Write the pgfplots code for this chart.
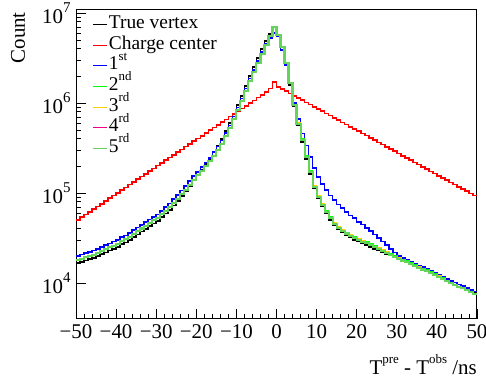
\documentclass[border=0pt]{standalone}
\usepackage{pgfplots}
\pgfplotsset{compat=1.18}
\usepackage{pgfplotstable}
\usepackage{fontspec}
\setmainfont{Liberation Serif}
\definecolor{rootorange}{RGB}{255,204,0}
\definecolor{rootlgreen}{RGB}{100,212,90}
\newcommand\tenp[1]{10\raisebox{0.5em}{\fontsize{15}{15}\selectfont #1}}
\newcommand\supx[1]{\raisebox{0.5em}{\fontsize{13}{13}\selectfont #1}}

\pgfplotstableread{
x tv cc s1 s2 s3 s5
-50 16600 50120 19950 17990 17990 17990
-49 17180 53700 20650 18620 18620 18620
-48 17780 57540 21380 19280 19280 19280
-47 18410 61800 22130 19950 19950 19950
-46 19050 66220 22910 20650 20650 20650
-45 19950 70960 23990 21630 21630 21630
-44 20890 76030 25120 22650 22650 22650
-43 21880 81470 26300 23710 23710 23710
-42 22910 87500 27540 24830 24830 24830
-41 23990 93760 28840 26000 26000 26000
-40 25120 100460 30060 27230 27230 27230
-39 26920 107650 32210 29170 29170 29170
-38 28180 115300 33730 30550 30550 30550
-37 30200 123900 36140 32730 32730 32730
-36 32360 132700 38730 35080 35080 35080
-35 34670 142200 41210 37580 37580 37580
-34 37150 152400 44160 40270 40270 40270
-33 39810 163300 47320 43150 43150 43150
-32 42660 175400 50700 46240 46240 46240
-31 45710 187900 54330 49550 49550 49550
-30 48980 201400 57810 52970 52970 52970
-29 53700 215800 63390 57940 57940 57940
-28 58880 231200 69500 63390 63390 63390
-27 64570 248300 76210 69340 69340 69340
-26 72440 266100 85510 77620 77620 77620
-25 81280 285100 95500 86500 86500 86500
-24 92260 305500 106900 96830 96830 96830
-23 104700 327300 119700 108400 108400 108400
-22 120200 351600 135500 122700 122700 122700
-21 138000 376700 153500 139000 139000 139000
-20 158500 403600 172200 157000 157000 157000
-19 182000 432500 194100 177000 177000 177000
-18 208900 463400 218800 199500 199500 199500
-17 239900 497700 246600 224900 224900 224900
-16 281800 533300 284400 259400 259400 259400
-15 331100 571500 327300 298500 298500 298500
-14 398100 612400 384600 353200 353200 353200
-13 489800 656100 462400 428500 428500 428500
-12 602600 704700 562300 524800 524800 524800
-11 758600 755100 707900 660700 660700 660700
-10 955000 809100 891300 831800 831800 831800
-9 1202000 867000 1122000 1047000 1047000 1047000
-8 1549000 929000 1445000 1349000 1349000 1349000
-7 1995000 997700 1862000 1738000 1738000 1738000
-6 2512000 1069000 2344000 2188000 2188000 2188000
-5 3162000 1146000 2951000 2754000 2754000 2754000
-4 3981000 1227000 3715000 3467000 3467000 3467000
-3 4898000 1315000 4571000 4365000 4365000 4365000
-2 5888000 1445000 5248000 5495000 5495000 5495000
-1 6918000 1718000 6026000 7000000 7000000 7000000
0 5754000 1514000 5495000 5754000 5754000 5754000
1 4169000 1429000 3890000 4169000 4169000 4169000
2 2692000 1352000 2630000 2754000 2754000 2754000
3 1585000 1276000 1698000 1660000 1660000 1660000
4 912000 1205000 1000000 955000 955000 955000
5 562300 1140000 660700 606500 597600 588800
6 371500 1076000 457100 400700 394800 389000
7 239900 1016000 338800 258700 255000 251200
8 162200 959400 251200 174900 172300 169800
9 112200 907800 190500 121000 119300 117500
10 87100 857000 151400 93940 92570 91200
11 70790 809100 125900 76350 75240 74130
12 58880 765600 107200 63510 62580 61660
13 50120 722800 93330 54050 53270 52480
14 43650 682300 83180 47080 46400 45710
15 39360 645700 74130 42450 41830 41210
16 36310 609500 67610 39160 38590 38020
17 33880 575400 61660 36540 36010 35480
18 31990 543300 56230 34510 34000 33500
19 30200 514000 52480 32570 32090 31620
20 28840 485300 47860 31110 30650 30200
21 27540 458100 44670 29710 29270 28840
22 26300 433500 40740 28370 27950 27540
23 25120 409300 38020 27090 26690 26300
24 23990 386400 34670 25870 25500 25120
25 22910 365600 31620 24710 24350 23990
26 22130 345100 28840 23600 23250 22910
27 21130 325800 26300 22280 21950 21630
28 20420 307600 23990 21030 20730 20420
29 19720 291100 21880 20090 19790 19500
30 19050 274800 19950 19180 18900 18620
31 18410 259400 18840 18310 18050 17780
32 17780 245500 17990 17490 17230 16980
33 17060 231700 17180 16710 16460 16220
34 16370 218800 16410 15950 15720 15490
35 15670 207000 15670 15230 15010 14790
36 14960 195400 14960 14550 14340 14130
37 14290 184500 14290 13890 13690 13490
38 13650 174200 13650 13270 13070 12880
39 13030 164800 13030 12670 12480 12300
40 12450 155600 12450 12100 11930 11750
41 11750 146900 11750 11350 11200 11090
42 11090 139000 11090 10650 10560 10470
43 10590 131200 10590 10100 10050 10000
44 10120 123900 10120 9550 9550 9550
45 9660 117200 9660 9120 9120 9120
46 9180 110700 9230 8710 8710 8710
47 8750 104500 8810 8320 8320 8320
48 8340 98630 8410 7940 7940 7940
49 7940 93330 8040 7590 7590 7590
50 7940 93330 8040 7590 7590 7590
}\histdata

\begin{document}
\begin{tikzpicture}
\begin{axis}[
  scale only axis, width=401bp, height=309bp,
  xmin=-50, xmax=50, ymode=log, ymin=3981, ymax=1.08e7,
  axis line style={line width=1bp},
  tick align=inside, xtick pos=left, ytick pos=left,
  xtick={-50,-40,...,50},
  xticklabels={−50,−40,−30,−20,−10,0,10,20,30,40,50},
  minor x tick num=4,
  ytick={1e4,1e5,1e6,1e7},
  yticklabels={\tenp{4},\tenp{5},\tenp{6},\tenp{7}},
  major tick length=10bp, minor tick length=5bp,
  tick style={black, line width=0.8bp},
  ticklabel style={font=\fontsize{21}{21}\selectfont},
  xticklabel style={yshift=-2bp},
  yticklabel style={xshift=-2bp},
  every axis plot/.append style={const plot mark left, no marks, line width=1.6bp},
]
\addplot[color=black] table[x=x,y=tv]{\histdata};
\addplot[color=red] table[x=x,y=cc]{\histdata};
\addplot[color=blue] table[x=x,y=s1]{\histdata};
\addplot[color=green] table[x=x,y=s2]{\histdata};
\addplot[color=rootorange] table[x=x,y=s3]{\histdata};
\addplot[color=magenta] table[x=x,y=s5]{\histdata};
\addplot[color=rootlgreen, line width=2.1bp] table[x=x,y=s5]{\histdata};
\end{axis}
% legend (keys and texts)
\begin{scope}[font=\fontsize{19.5}{19.5}\selectfont, line width=1.7bp]
\draw[black]       (17bp,294.5bp) -- (31bp,294.5bp);
\node[anchor=base west, inner sep=0pt] at (32bp,290.5bp) {True vertex};
\draw[red]         (17bp,273.5bp) -- (31bp,273.5bp);
\node[anchor=base west, inner sep=0pt] at (32bp,269.8bp) {Charge center};
\draw[blue]        (17bp,253.5bp) -- (31bp,253.5bp);
\node[anchor=base west, inner sep=0pt] at (32bp,249.1bp) {1\supx{st}};
\draw[green]       (17bp,232.5bp) -- (31bp,232.5bp);
\node[anchor=base west, inner sep=0pt] at (32bp,228.4bp) {2\supx{nd}};
\draw[rootorange]  (17bp,211.5bp) -- (31bp,211.5bp);
\node[anchor=base west, inner sep=0pt] at (32bp,207.7bp) {3\supx{rd}};
\draw[magenta]     (17bp,191.5bp) -- (31bp,191.5bp);
\node[anchor=base west, inner sep=0pt] at (32bp,187bp) {4\supx{rd}};
\draw[rootlgreen]  (17bp,170.5bp) -- (31bp,170.5bp);
\node[anchor=base west, inner sep=0pt] at (32bp,166.3bp) {5\supx{rd}};
\end{scope}
\node[anchor=base east, inner sep=0pt, font=\fontsize{21}{21}\selectfont]
  at (401bp,-55bp) {T\supx{pre} - T\supx{obs} /ns};
\node[anchor=base east, inner sep=0pt, rotate=90, font=\fontsize{21}{21}\selectfont]
  at (-51bp,307bp) {Count};
\pgfresetboundingbox
\useasboundingbox (-76bp,-59bp) rectangle (410bp,319bp);
\end{tikzpicture}
\end{document}
